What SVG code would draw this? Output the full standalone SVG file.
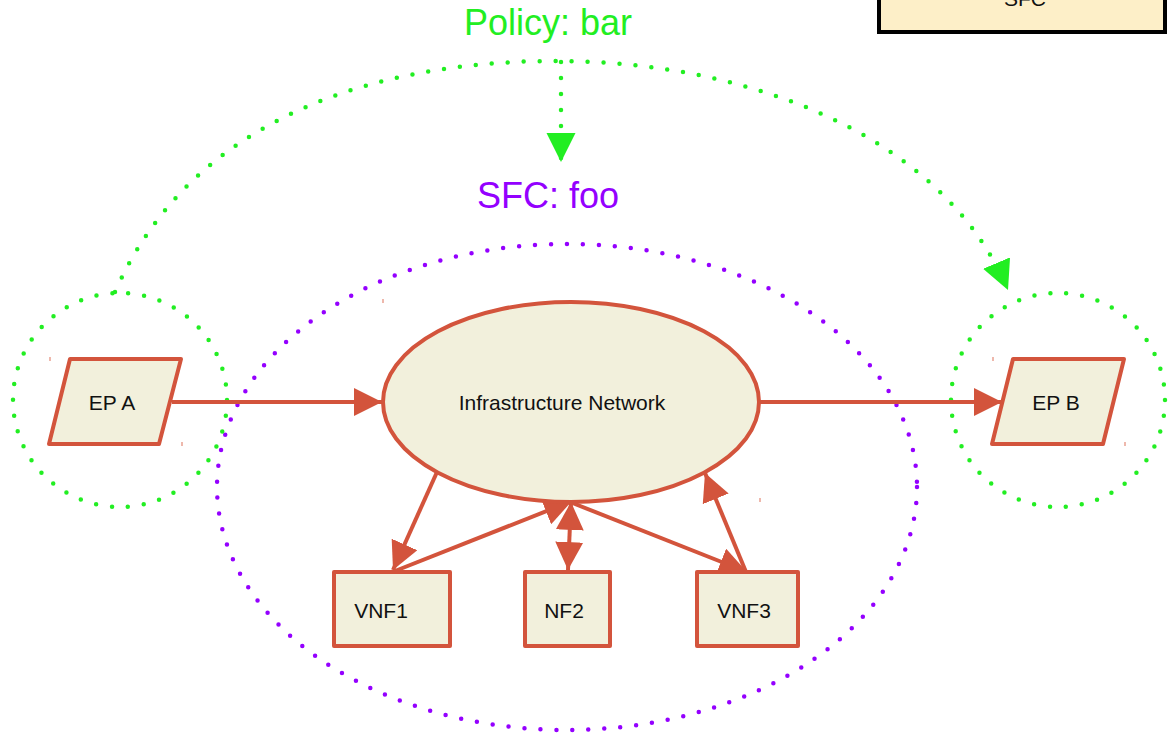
<svg xmlns="http://www.w3.org/2000/svg" width="1171" height="733" viewBox="0 0 1171 733">
<defs>
<style>
.node{fill:#f2f0dc;stroke:#d3543c;stroke-width:4;stroke-linejoin:round}
.lbl{font-family:"Liberation Sans",Arial,sans-serif;font-size:21px;fill:#111;text-anchor:middle}
.edge{stroke:#d3543c;stroke-width:4;fill:none}
.green{stroke:#22ee22;stroke-width:4.5;fill:none;stroke-dasharray:0 16;stroke-linecap:round}
.purple{stroke:#9400ff;stroke-width:4.5;fill:none;stroke-dasharray:0 16;stroke-linecap:round}
.tick{stroke:#e8a090;stroke-width:1.5}
</style>
<marker id="ah" viewBox="0 0 10 10" refX="10" refY="5" markerWidth="7" markerHeight="7" markerUnits="strokeWidth" orient="auto-start-reverse">
<path d="M0,0 L10,5 L0,10 z" fill="#d3543c"/>
</marker>
<marker id="gh" viewBox="0 0 10 10" refX="10" refY="5" markerWidth="6.5" markerHeight="6.5" markerUnits="strokeWidth" orient="auto">
<path d="M0,0 L10,5 L0,10 z" fill="#22ee22"/>
</marker>
</defs>
<rect width="1171" height="733" fill="#fff"/>

<g id="legend">
<rect x="879" y="-10" width="286" height="42" fill="#fdefc8" stroke="#000" stroke-width="4"/>
<text x="1025" y="6" class="lbl" font-size="21">SFC</text>
</g>

<g id="groups">
<ellipse cx="567" cy="487" rx="350" ry="243" class="purple"/>
<circle cx="120" cy="400" r="107" class="green"/>
<circle cx="1058" cy="400" r="107" class="green"/>
<text x="548" y="35" font-family="Liberation Sans,Arial,sans-serif" font-size="36" fill="#22ee22" text-anchor="middle">Policy: bar</text>
<text x="548" y="208" font-family="Liberation Sans,Arial,sans-serif" font-size="36" fill="#9400ff" text-anchor="middle">SFC: foo</text>
</g>

<g id="connectors">
<path class="green" d="M115,292 C195,110 390,60 561,61 C740,62 940,130 1008,290" marker-end="url(#gh)"/>
<path class="green" d="M561,62 L561,162" marker-end="url(#gh)"/>
<line class="edge" x1="172" y1="402" x2="382" y2="402" marker-end="url(#ah)"/>
<line class="edge" x1="760" y1="402" x2="1002" y2="402" marker-end="url(#ah)"/>
<line class="edge" x1="437" y1="472" x2="393" y2="570" marker-end="url(#ah)"/>
<line class="edge" x1="395" y1="571" x2="572" y2="501" marker-end="url(#ah)"/>
<line class="edge" x1="571" y1="502" x2="568" y2="570" marker-start="url(#ah)" marker-end="url(#ah)"/>
<line class="edge" x1="570" y1="502" x2="747" y2="572" marker-end="url(#ah)"/>
<line class="edge" x1="746" y1="572" x2="705" y2="473" marker-end="url(#ah)"/>
</g>

<g id="ep-a">
<polygon class="node" points="70,359 181,359 159,444 49,444"/>
<text x="112" y="410" class="lbl">EP A</text>
<line class="tick" x1="50" y1="357" x2="50" y2="361"/>
<line class="tick" x1="182" y1="442" x2="182" y2="446"/>
</g>
<g id="ep-b">
<polygon class="node" points="1013,359 1124,359 1103,444 992,444"/>
<text x="1056" y="410" class="lbl">EP B</text>
<line class="tick" x1="993" y1="357" x2="993" y2="361"/>
<line class="tick" x1="1125" y1="442" x2="1125" y2="446"/>
</g>
<g id="infra">
<ellipse class="node" cx="571" cy="402" rx="188" ry="100"/>
<text x="562" y="410" class="lbl">Infrastructure Network</text>
<line class="tick" x1="383" y1="299" x2="383" y2="303"/>
<line class="tick" x1="760" y1="498" x2="760" y2="502"/>
</g>
<g id="vnf1">
<rect class="node" x="334" y="572" width="116" height="74"/>
<text x="381" y="618" class="lbl">VNF1</text>
</g>
<g id="nf2">
<rect class="node" x="525" y="572" width="85" height="74"/>
<text x="564" y="618" class="lbl">NF2</text>
</g>
<g id="vnf3">
<rect class="node" x="697" y="572" width="101" height="74"/>
<text x="744" y="618" class="lbl">VNF3</text>
</g>
</svg>
